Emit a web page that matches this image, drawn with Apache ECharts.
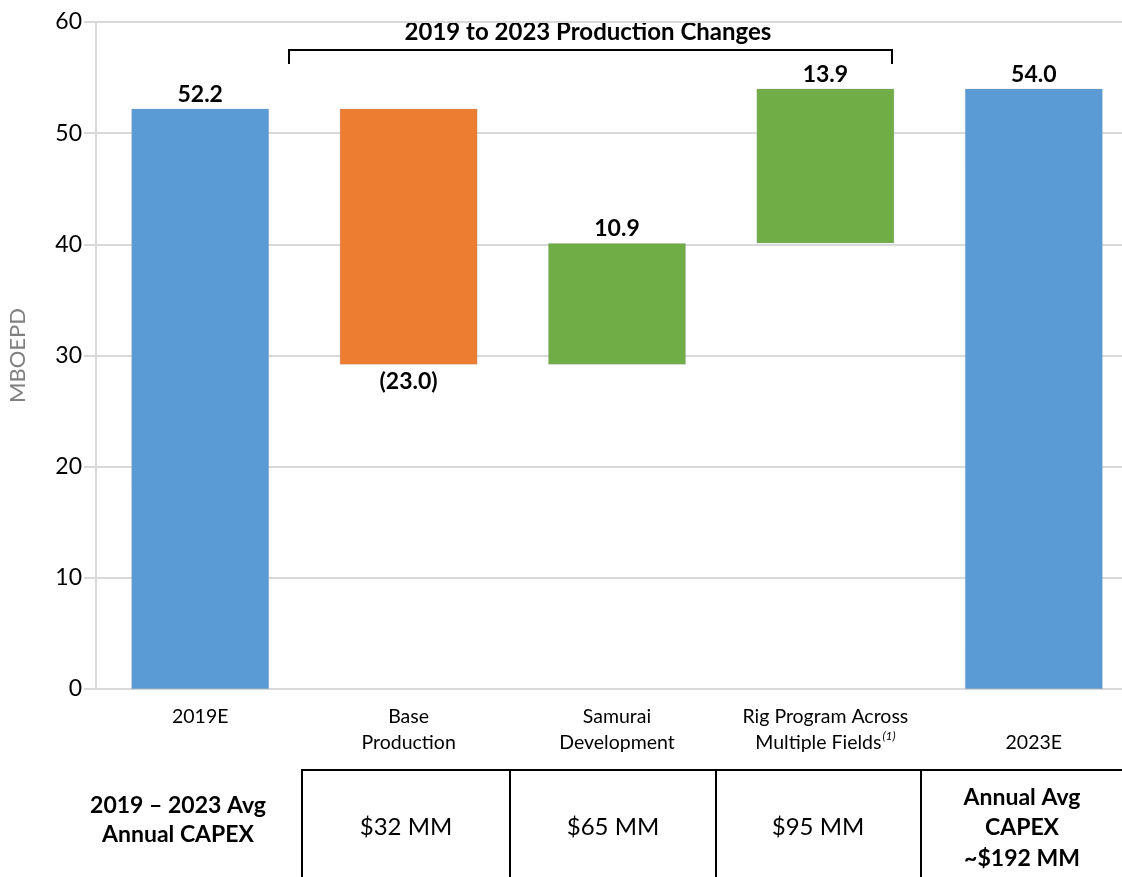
<!DOCTYPE html>
<html><head><meta charset="utf-8">
<script src="https://cdn.jsdelivr.net/npm/echarts@6/dist/echarts.min.js"></script>
<style>html,body{margin:0;padding:0;background:#fff}#c{width:1122px;height:877px}</style>
</head><body><div id="c"></div>
<script>
const categories = ['2019E', 'Base\nProduction', 'Samurai\nDevelopment', 'Rig Program Across\nMultiple Fields{sup|(1)}', '\n2023E'];
const startValue = 52.2;
const deltas = [-23.0, 10.9, 13.9];
const endValue = 54.0;
const valueLabels = ['52.2', '(23.0)', '10.9', '13.9', '54.0'];
const yTicks = [0, 10, 20, 30, 40, 50, 60];
const capexHeader = '2019 – 2023 Avg\nAnnual CAPEX';
const capexCells = ['$32 MM', '$65 MM', '$95 MM'];
const capexTotal = 'Annual Avg\nCAPEX\n~$192 MM';
const bracketTitle = '2019 to 2023 Production Changes';

const BLUE = '#5B9BD5', ORANGE = '#ED7D31', GREEN = '#70AD47';
const FONT = 'Lato, "Open Sans", sans-serif';

// waterfall helper arrays
const bases = [0];
const heights = [startValue];
const colors = [BLUE];
let running = startValue;
deltas.forEach(d => {
  const next = running + d;
  bases.push(Math.min(running, next));
  heights.push(Math.abs(d));
  colors.push(d < 0 ? ORANGE : GREEN);
  running = next;
});
bases.push(0); heights.push(endValue); colors.push(BLUE);
const signs = [1].concat(deltas.map(d => d < 0 ? -1 : 1)).concat([1]);

const chart = echarts.init(document.getElementById('c'), null, {renderer: 'canvas'});

const graphic = [
  {type: 'polyline', shape: {points: [[289, 64], [289, 50], [892, 50], [892, 64]]}, style: {stroke: '#000', lineWidth: 2, fill: null}},
  {type: 'text', x: 588, y: 32, style: {text: bracketTitle, font: 'bold 24px ' + FONT, fill: '#000', align: 'center', verticalAlign: 'middle'}},
  // table
  {type: 'line', shape: {x1: 302, y1: 770, x2: 1122, y2: 770}, style: {stroke: '#000', lineWidth: 2}},
  {type: 'line', shape: {x1: 302, y1: 769, x2: 302, y2: 877}, style: {stroke: '#000', lineWidth: 2}},
  {type: 'line', shape: {x1: 510, y1: 769, x2: 510, y2: 877}, style: {stroke: '#000', lineWidth: 2}},
  {type: 'line', shape: {x1: 716, y1: 769, x2: 716, y2: 877}, style: {stroke: '#000', lineWidth: 2}},
  {type: 'line', shape: {x1: 921, y1: 769, x2: 921, y2: 877}, style: {stroke: '#000', lineWidth: 2}},
  {type: 'text', x: 178, y: 820, style: {text: capexHeader, font: 'bold 23px ' + FONT, fill: '#000', align: 'center', verticalAlign: 'middle', lineHeight: 29}},
  {type: 'text', x: 406, y: 827, style: {text: capexCells[0], font: '24px ' + FONT, fill: '#000', align: 'center', verticalAlign: 'middle'}},
  {type: 'text', x: 613, y: 827, style: {text: capexCells[1], font: '24px ' + FONT, fill: '#000', align: 'center', verticalAlign: 'middle'}},
  {type: 'text', x: 818, y: 827, style: {text: capexCells[2], font: '24px ' + FONT, fill: '#000', align: 'center', verticalAlign: 'middle'}},
  {type: 'text', x: 1022, y: 828, style: {text: capexTotal, font: 'bold 23px ' + FONT, fill: '#000', align: 'center', verticalAlign: 'middle', lineHeight: 30.5}}
];

chart.setOption({
  animation: false,
  backgroundColor: '#fff',
  textStyle: {fontFamily: FONT},
  grid: {left: 96, width: 1042, top: 22, height: 667, containLabel: false, outerBoundsMode: 'none'},
  xAxis: {
    type: 'category',
    data: categories,
    axisLine: {show: true, lineStyle: {color: '#d9d9d9', width: 2}},
    axisTick: {show: false},
    axisLabel: {
      interval: 0, margin: 15, color: '#000', fontSize: 19.5, lineHeight: 26, fontFamily: FONT,
      rich: {sup: {fontSize: 12, fontStyle: 'italic', verticalAlign: 'top', lineHeight: 14, padding: [0, 0, 10, 1], color: '#000'}}
    }
  },
  yAxis: {
    type: 'value', min: 0, max: 60, interval: 10,
    name: 'MBOEPD', nameLocation: 'middle', nameGap: 67, nameRotate: 90,
    nameTextStyle: {color: '#808080', fontSize: 22, fontFamily: FONT},
    axisLine: {show: true, lineStyle: {color: '#d9d9d9', width: 2}},
    axisTick: {show: true, length: 12, lineStyle: {color: '#d9d9d9', width: 2}},
    axisLabel: {margin: 14, color: '#000', fontSize: 23, fontFamily: FONT,
      formatter: v => yTicks.indexOf(v) >= 0 ? String(v) : ''},
    splitLine: {lineStyle: {color: '#d9d9d9', width: 2}}
  },
  series: [
    {type: 'bar', stack: 'w', data: bases, itemStyle: {color: 'transparent'}, barWidth: '66%', silent: true},
    {type: 'bar', stack: 'w', barWidth: '66%',
      data: heights.map((h, i) => ({
        value: h,
        itemStyle: {color: colors[i], borderColor: 'rgba(160,160,160,0.5)', borderWidth: 0.5},
        label: {show: true, position: signs[i] < 0 ? 'bottom' : 'top', distance: signs[i] < 0 ? 6 : 3,
          formatter: valueLabels[i], fontWeight: 'bold', fontSize: 23, color: '#000', fontFamily: FONT}
      }))
    }
  ],
  graphic: graphic
});
</script>
</body></html>
